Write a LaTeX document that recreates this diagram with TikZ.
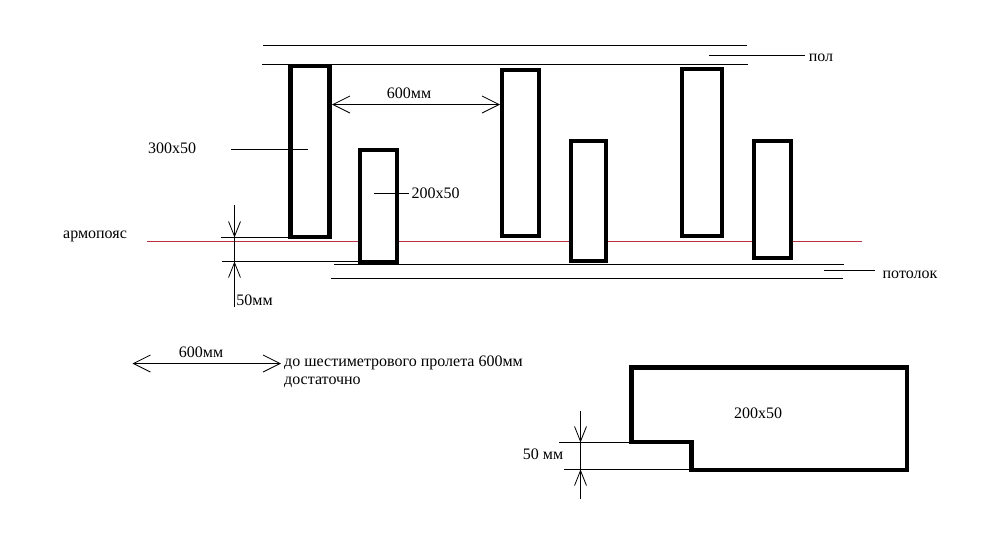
\documentclass[tikz,border=0pt]{standalone}
\usepackage{fontspec}
\setmainfont{Liberation Serif}
\usetikzlibrary{arrows.meta}
\definecolor{beltred}{RGB}{185,50,65}
\tikzset{
	wall/.style={draw,line width=4.8pt,fill=white,inner sep=0pt,outer sep=0pt},
	thin line/.style={line width=1pt},
	belt/.style={fill=beltred,inner sep=0pt,outer sep=0pt,minimum width=715pt,minimum height=1.5pt},
	label/.style={inner sep=0pt,font=\fontsize{16}{18}\selectfont},
	dim/.style={thin line,{Straight Barb[length=17pt,width=17pt,line width=0.8pt]}-{Straight Barb[length=17pt,width=17pt,line width=0.8pt]}},
	tick/.style={thin line,-{Straight Barb[length=15pt,width=12pt,line width=0.8pt]}}
}
\begin{document}
\begin{tikzpicture}[x=1pt,y=-1pt]
	\useasboundingbox (0,0) rectangle (986,555);
	
	\node[belt] (B) at(504.5,241.5) {};
	
	\node[wall,minimum width=39pt,minimum height=171pt] (R1) at(310,151.5) {};
	\node[wall,minimum width=37pt,minimum height=112pt] (R2) at(378.5,206) {};
	\node[wall,minimum width=37pt,minimum height=166pt] (R3) at(520.5,153) {};
	\node[wall,minimum width=35pt,minimum height=120pt] (R4) at(588.5,201) {};
	\node[wall,minimum width=40pt,minimum height=167pt] (R5) at(702,152.5) {};
	\node[wall,minimum width=37pt,minimum height=117pt] (R6) at(772.5,199.5) {};
	
	\node[label] (L300) at(172,148) {300x50};
	\node[label] (L200) at(435.5,193) {200x50};
	\node[label] (Ldim) at(409,93) {600мм};
	\node[label] (Larm) at(95,236) {армопояс};
	\node[label] (L50) at(254.5,300) {50мм};
	\node[label] (Lpol) at(821,58) {пол};
	\node[label] (Lpot) at(910,275) {потолок};
	\node[label] (Lspan) at(201,352) {600мм};
	\node[label,align=left,anchor=west] (Lnote) at(284,372) {до шестиметрового пролета 600мм\\достаточно};
	\node[label] (Lbeam) at(758,413) {200x50};
	\node[label] (Lstep) at(543,454) {50 мм};
	
	% perekrytiya
	\coordinate (floorA) at(263,45.5);
	\coordinate (floorB) at(747,45.5);
	\coordinate (floorC) at(262,64.5);
	\coordinate (floorD) at(748,64.5);
	\coordinate (ceilA) at(334,264.5);
	\coordinate (ceilB) at(844,264.5);
	\coordinate (ceilC) at(331,278.5);
	\coordinate (ceilD) at(843,278.5);
	\draw[thin line] (floorA)--(floorB);
	\draw[thin line] (floorC)--(floorD);
	\draw[thin line] (ceilA)--(ceilB);
	\draw[thin line] (ceilC)--(ceilD);
	
	% vynoski
	\coordinate (polA) at(709,55.5);
	\coordinate (polB) at(805,55.5);
	\coordinate (potA) at(824,270.5);
	\coordinate (potB) at(875,270.5);
	\coordinate (bigA) at(231,149.5);
	\coordinate (bigB) at(308,149.5);
	\coordinate (smallA) at(374,193.5);
	\coordinate (smallB) at(409,193.5);
	\draw[thin line] (polA)--(polB);
	\draw[thin line] (potA)--(potB);
	\draw[thin line] (bigA)--(bigB);
	\draw[thin line] (smallA)--(smallB);
	
	\coordinate (gapA) at(332,104.5);
	\coordinate (gapB) at(500,104.5);
	\draw[dim] (gapA)--(gapB);
	\coordinate (spanA) at(132.5,363.5);
	\coordinate (spanB) at(281,363.5);
	\draw[dim] (spanA)--(spanB);
	
	% 50mm u armopoyasa
	\coordinate (hA) at(234.5,205);
	\coordinate (hB) at(234.5,237.5);
	\coordinate (hC) at(234.5,261.5);
	\coordinate (hD) at(234.5,307);
	\coordinate (hE) at(221,237.5);
	\coordinate (hF) at(222,261.5);
	\draw[tick] (hA)--(hB);
	\draw[tick] (hD)--(hC);
	\draw[thin line] (hB)--(hC);
	\draw[thin line] (hE)--(hE-|R1.west);
	\draw[thin line] (hF)--(hF-|R2.west);
	
	% balka
	\coordinate (bA) at(631.5,367.5);
	\coordinate (bB) at(907,367.5);
	\coordinate (bC) at(907,470);
	\coordinate (bD) at(691.5,470);
	\coordinate (bE) at(691.5,442);
	\coordinate (bF) at(631.5,442);
	\draw[line width=4.8pt,line join=miter] (bA)--(bB)--(bC)--(bD)--(bE)--(bF)--cycle;
	
	\coordinate (sA) at(580.5,411);
	\coordinate (sB) at(580.5,442.5);
	\coordinate (sC) at(580.5,469.5);
	\coordinate (sD) at(580.5,499);
	\coordinate (sE) at(559,442.5);
	\coordinate (sF) at(564,469.5);
	\draw[tick] (sA)--(sB);
	\draw[tick] (sD)--(sC);
	\draw[thin line] (sB)--(sC);
	\draw[thin line] (sE)--(sE-|bF);
	\draw[thin line] (sF)--(sF-|bD);
\end{tikzpicture}
\end{document}
